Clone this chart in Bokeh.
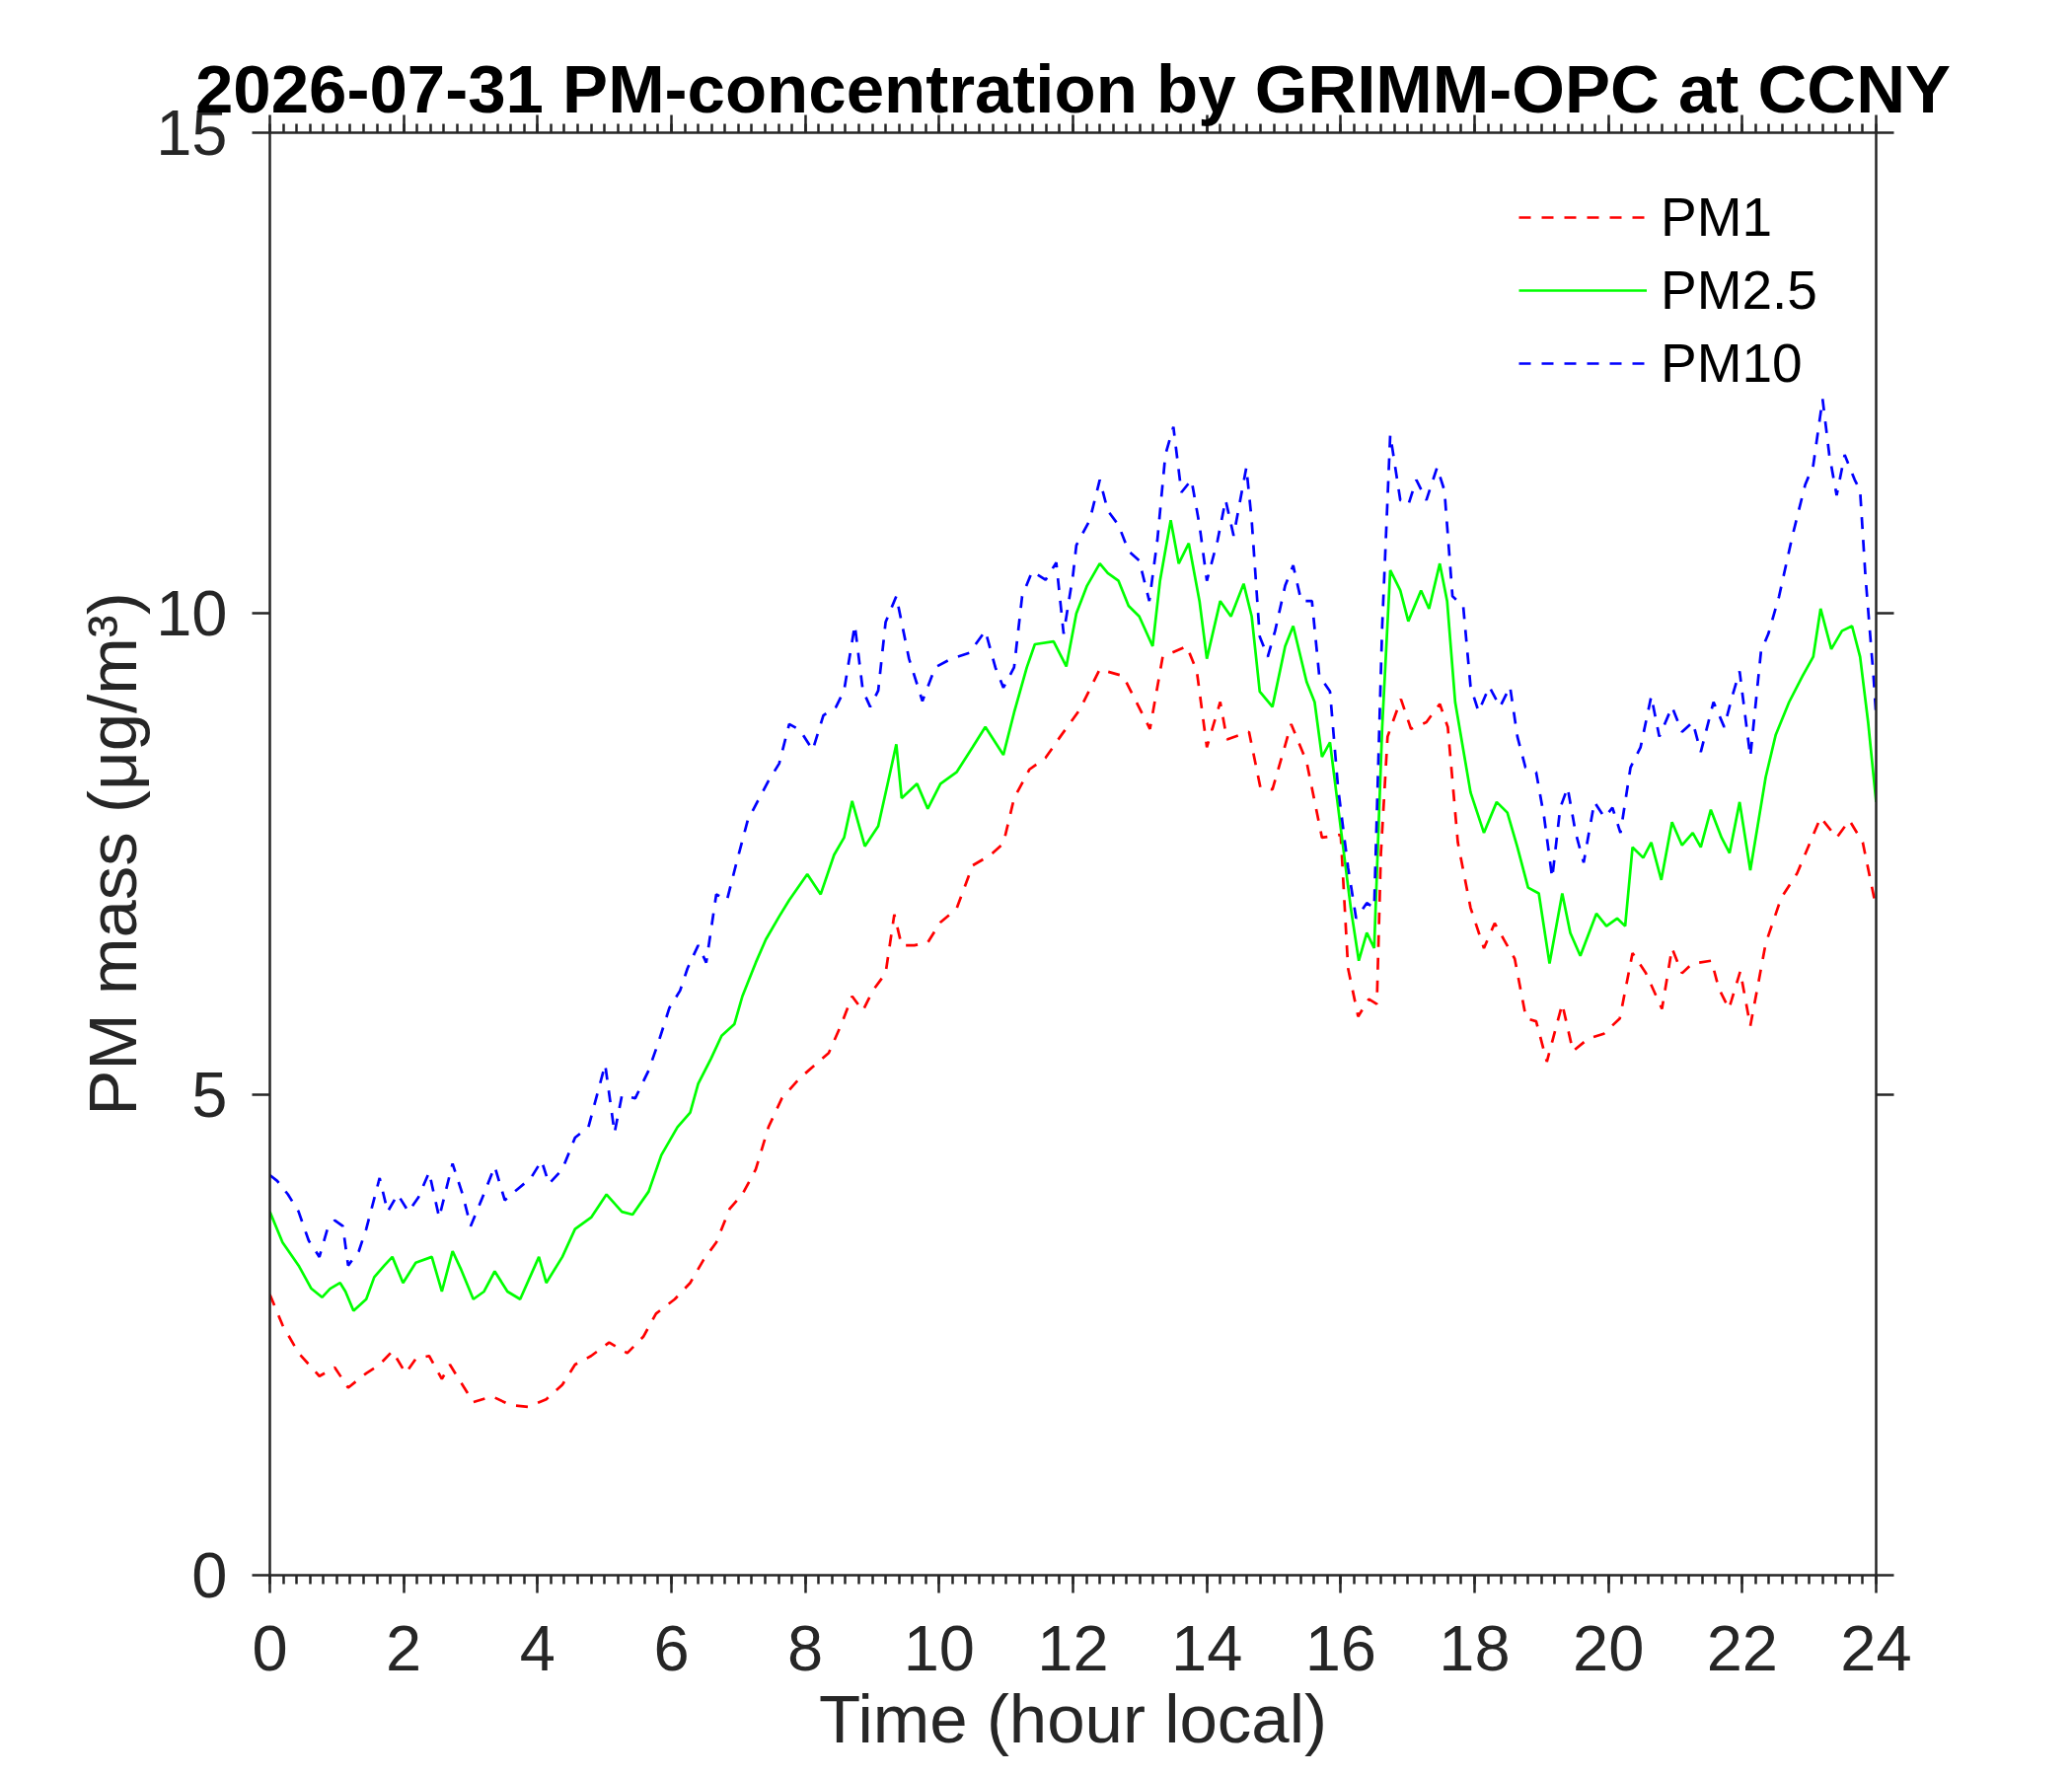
from bokeh.plotting import figure
from bokeh.models import (Range1d, LinearAxis, SingleIntervalTicker, FixedTicker,
                          CustomJSTickFormatter, Legend, LegendItem)
from bokeh.embed import file_html
from bokeh.resources import INLINE

# ---------------- data (hours local, µg/m3) ----------------
t_pm1 = [0.0, 0.19, 0.43, 0.74, 0.97, 1.17, 1.44, 1.64, 1.83, 2.03, 2.18, 2.38, 2.57, 2.69,
         2.85, 3.04, 3.32, 3.59, 3.86, 4.13, 4.37, 4.56, 4.80, 5.07, 5.34, 5.58, 5.77, 6.05,
         6.28, 6.48, 6.67, 6.87, 7.06, 7.26, 7.45, 7.65, 7.92, 8.15, 8.35, 8.54, 8.70, 8.86,
         9.01, 9.20, 9.33, 9.44, 9.63, 9.83, 10.02, 10.26, 10.50, 10.77, 10.96, 11.12, 11.35,
         11.59, 11.82, 12.10, 12.40, 12.75, 13.15, 13.34, 13.70, 13.85, 14.00, 14.20, 14.30,
         14.63, 14.80, 14.98, 15.26, 15.49, 15.72, 16.00, 16.11, 16.26, 16.42, 16.54, 16.60,
         16.70, 16.90, 17.05, 17.28, 17.48, 17.60, 17.75, 17.94, 18.14, 18.30, 18.60, 18.77,
         18.92, 19.08, 19.31, 19.47, 19.70, 19.93, 20.17, 20.36, 20.56, 20.80, 20.95, 21.10,
         21.25, 21.54, 21.65, 21.80, 21.97, 22.12, 22.35, 22.58, 22.82, 23.17, 23.41, 23.60,
         23.80, 24.00]
pm1 = [2.92, 2.60, 2.31, 2.07, 2.16, 1.95, 2.10, 2.19, 2.33, 2.10, 2.25, 2.28, 2.04, 2.19,
       2.01, 1.80, 1.86, 1.77, 1.75, 1.83, 1.98, 2.19, 2.28, 2.42, 2.31, 2.48, 2.72, 2.87,
       3.04, 3.28, 3.46, 3.81, 3.96, 4.22, 4.66, 4.96, 5.17, 5.31, 5.43, 5.73, 6.02, 5.87,
       6.08, 6.26, 6.87, 6.55, 6.55, 6.58, 6.79, 6.93, 7.38, 7.49, 7.61, 8.08, 8.38,
       8.50, 8.73, 9.00, 9.42, 9.35, 8.80, 9.55, 9.66, 9.40, 8.61, 9.08, 8.69,
       8.77, 8.19, 8.17, 8.85, 8.46, 7.67, 7.70, 6.31, 5.81, 5.99, 5.94, 7.50,
       8.72, 9.11, 8.80, 8.87, 9.06, 8.82, 7.62, 6.94, 6.52, 6.78, 6.41, 5.79,
       5.76, 5.34, 5.94, 5.45, 5.58, 5.63, 5.79, 6.47, 6.26, 5.89, 6.52, 6.26,
       6.36, 6.39, 6.10, 5.89, 6.28, 5.71, 6.57, 7.04, 7.30, 7.88, 7.67, 7.85,
       7.62, 6.94]

t_pm25 = [0.0, 0.19, 0.43, 0.62, 0.78, 0.90, 1.05, 1.13, 1.25, 1.44, 1.56, 1.71, 1.83, 1.99,
          2.18, 2.42, 2.57, 2.73, 2.85, 3.04, 3.20, 3.36, 3.55, 3.74, 4.02, 4.13, 4.37, 4.56,
          4.80, 5.03, 5.26, 5.42, 5.66, 5.85, 6.09, 6.28, 6.40, 6.59, 6.75, 6.94, 7.06, 7.26,
          7.41, 7.61, 7.76, 8.03, 8.23, 8.43, 8.58, 8.70, 8.89, 9.09, 9.24, 9.36, 9.44, 9.67,
          9.83, 10.02, 10.26, 10.50, 10.69, 10.96, 11.12, 11.31, 11.43, 11.71, 11.90, 12.05,
          12.21, 12.40, 12.52, 12.68, 12.83, 12.99, 13.19, 13.30, 13.46, 13.58, 13.73, 13.89,
          14.00, 14.20, 14.36, 14.55, 14.67, 14.79, 14.98, 15.17, 15.29, 15.49, 15.61, 15.72,
          15.84, 16.00, 16.15, 16.27, 16.39, 16.50, 16.62, 16.74, 16.89, 17.01, 17.20, 17.32,
          17.48, 17.59, 17.71, 17.94, 18.14, 18.33, 18.49, 18.64, 18.80, 18.96, 19.12, 19.31,
          19.43, 19.58, 19.82, 19.97, 20.13, 20.25, 20.36, 20.52, 20.64, 20.79, 20.95, 21.10,
          21.26, 21.38, 21.53, 21.69, 21.81, 21.96, 22.12, 22.35, 22.50, 22.70, 22.90, 23.06,
          23.17, 23.33, 23.49, 23.64, 23.76, 23.88, 24.00]
pm25 = [3.78, 3.46, 3.22, 2.98, 2.89, 2.98, 3.04, 2.95, 2.75, 2.87, 3.10, 3.22, 3.31, 3.04,
        3.25, 3.31, 2.95, 3.37, 3.19, 2.87, 2.95, 3.16, 2.95, 2.87, 3.31, 3.04, 3.31, 3.60,
        3.72, 3.96, 3.78, 3.75, 3.99, 4.37, 4.66, 4.81, 5.11, 5.37, 5.61, 5.73, 6.02, 6.37,
        6.61, 6.85, 7.02, 7.29, 7.08, 7.49, 7.67, 8.05, 7.58, 7.79, 8.26, 8.64, 8.08, 8.23,
        7.97, 8.23, 8.35, 8.61, 8.82, 8.53, 8.97, 9.44, 9.68, 9.71, 9.45, 10.00,
        10.29, 10.52, 10.42, 10.34, 10.08, 9.97, 9.66, 10.34, 10.97, 10.52, 10.73, 10.13,
        9.53, 10.13, 9.97, 10.31, 9.97, 9.19, 9.03, 9.66, 9.87, 9.29, 9.08, 8.51,
        8.66, 7.77, 6.94, 6.39, 6.68, 6.52, 8.82, 10.45, 10.24, 9.92, 10.24, 10.05,
        10.52, 10.13, 9.08, 8.14, 7.72, 8.04, 7.93, 7.57, 7.15, 7.09, 6.36, 7.09,
        6.68, 6.44, 6.88, 6.75, 6.83, 6.75, 7.57, 7.46, 7.62, 7.23, 7.83, 7.59,
        7.72, 7.57, 7.96, 7.67, 7.51, 8.04, 7.33, 8.30, 8.74, 9.08, 9.35, 9.55,
        10.05, 9.63, 9.82, 9.87, 9.55, 8.87, 8.04]

t_pm10 = [0.0, 0.11, 0.27, 0.43, 0.58, 0.74, 0.86, 0.97, 1.09, 1.17, 1.33, 1.44, 1.64, 1.76,
          1.91, 2.07, 2.22, 2.38, 2.53, 2.73, 2.88, 3.00, 3.16, 3.36, 3.51, 3.71, 3.90, 4.06,
          4.17, 4.37, 4.56, 4.76, 5.01, 5.15, 5.26, 5.46, 5.66, 5.81, 5.97, 6.13, 6.24, 6.40,
          6.52, 6.67, 6.83, 6.98, 7.14, 7.29, 7.45, 7.61, 7.76, 7.92, 8.11, 8.27, 8.46, 8.58,
          8.74, 8.86, 8.97, 9.09, 9.20, 9.36, 9.55, 9.75, 9.94, 10.18, 10.45, 10.69, 10.84,
          10.96, 11.12, 11.24, 11.39, 11.59, 11.75, 11.86, 12.00, 12.05, 12.25, 12.40, 12.52,
          12.68, 12.83, 12.99, 13.14, 13.26, 13.38, 13.50, 13.62, 13.77, 13.89, 14.00, 14.16,
          14.28, 14.40, 14.59, 14.67, 14.79, 14.91, 15.02, 15.17, 15.29, 15.41, 15.57, 15.68,
          15.84, 15.96, 16.11, 16.23, 16.39, 16.50, 16.62, 16.74, 16.89, 17.01, 17.13, 17.28,
          17.44, 17.55, 17.67, 17.83, 17.94, 18.06, 18.22, 18.38, 18.53, 18.64, 18.76, 18.92,
          19.04, 19.16, 19.28, 19.39, 19.51, 19.63, 19.79, 19.94, 20.06, 20.18, 20.33, 20.48,
          20.64, 20.76, 20.95, 21.10, 21.26, 21.38, 21.57, 21.73, 21.85, 21.96, 22.12, 22.28,
          22.39, 22.55, 22.75, 22.94, 23.06, 23.20, 23.30, 23.41, 23.53, 23.68, 23.76, 23.84,
          23.96, 24.00]
pm10 = [4.16, 4.10, 3.96, 3.78, 3.48, 3.31, 3.60, 3.69, 3.63, 3.22, 3.37, 3.60, 4.13, 3.78,
        3.96, 3.78, 3.93, 4.19, 3.72, 4.28, 3.96, 3.63, 3.90, 4.25, 3.90, 4.02, 4.13, 4.31,
        4.07, 4.22, 4.55, 4.66, 5.31, 4.60, 4.99, 4.96, 5.25, 5.55, 5.90, 6.08, 6.31, 6.55,
        6.37, 7.08, 7.02, 7.43, 7.85, 8.05, 8.26, 8.44, 8.85, 8.79, 8.58, 8.94, 9.03, 9.20,
        9.88, 9.20, 9.03, 9.20, 9.91, 10.18, 9.53, 9.09, 9.44, 9.53, 9.59, 9.82, 9.44,
        9.23, 9.44, 10.18, 10.44, 10.35, 10.53, 9.79, 10.40, 10.71, 10.97, 11.39, 11.07,
        10.92, 10.65, 10.55, 10.13, 10.76, 11.65, 11.94, 11.26, 11.39, 10.92, 10.34, 10.76,
        11.18, 10.81, 11.52, 10.97, 9.76, 9.55, 9.82, 10.29, 10.50, 10.13, 10.13, 9.35,
        9.19, 8.19, 7.36, 6.83, 6.99, 6.94, 9.87, 11.86, 11.18, 11.13, 11.39, 11.18,
        11.52, 11.28, 10.18, 10.08, 9.24, 8.98, 9.24, 9.03, 9.24, 8.72, 8.40, 8.35,
        7.88, 7.25, 7.98, 8.19, 7.72, 7.41, 8.04, 7.88, 7.98, 7.72, 8.40, 8.61,
        9.14, 8.72, 9.03, 8.77, 8.87, 8.56, 9.08, 8.82, 9.14, 9.40, 8.51, 9.61,
        9.79, 10.18, 10.81, 11.34, 11.54, 12.23, 11.65, 11.23, 11.65, 11.39, 11.28, 10.39,
        9.35, 8.93]

x_major_step = 2
x_minor_per_major = 10
y_ticks = [0, 5, 10, 15]

# ---------------- figure ----------------
AX = "#262626"
FONT = "Liberation Sans"

p = figure(width=2084, height=1784, output_backend="svg", toolbar_location=None,
           x_range=Range1d(0, 24), y_range=Range1d(0, 15),
           x_axis_type=None, y_axis_type=None,
           min_border_left=273, min_border_right=183,
           min_border_top=134, min_border_bottom=188)
p.outline_line_color = None
p.background_fill_color = "white"
p.border_fill_color = "white"

def style(ax, labels=True, minor=True):
    ax.axis_line_color = AX
    ax.axis_line_width = 2.5
    ax.major_tick_line_color = AX
    ax.major_tick_line_width = 2.5
    ax.major_tick_in = 0
    ax.major_tick_out = 18
    if minor:
        ax.minor_tick_line_color = AX
        ax.minor_tick_line_width = 2.5
        ax.minor_tick_in = 0
        ax.minor_tick_out = 9
    else:
        ax.minor_tick_line_color = None
    ax.major_label_text_font = FONT
    ax.major_label_text_font_size = "65px"
    ax.major_label_text_color = AX
    if not labels:
        ax.formatter = CustomJSTickFormatter(code="return ''")
        ax.major_label_text_font_size = "0px"
        ax.major_label_standoff = 0

xb = LinearAxis(ticker=SingleIntervalTicker(interval=x_major_step, num_minor_ticks=x_minor_per_major))
style(xb)
xb.major_label_standoff = 33
xb.axis_label = "Time (hour local)"
xb.axis_label_text_font = FONT
xb.axis_label_text_font_size = "69px"
xb.axis_label_text_font_style = "normal"
xb.axis_label_text_color = AX
xb.axis_label_standoff = 8
p.add_layout(xb, "below")

xt = LinearAxis(ticker=SingleIntervalTicker(interval=x_major_step, num_minor_ticks=x_minor_per_major))
style(xt, labels=False)
p.add_layout(xt, "above")

yl = LinearAxis(ticker=FixedTicker(ticks=y_ticks, minor_ticks=[]))
style(yl, minor=False)
yl.major_label_standoff = 25
yl.axis_label = "PM mass (μg/m³)"
yl.axis_label_text_font = FONT
yl.axis_label_text_font_size = "69px"
yl.axis_label_text_font_style = "normal"
yl.axis_label_text_color = AX
yl.axis_label_standoff = 2
p.add_layout(yl, "left")

yr = LinearAxis(ticker=FixedTicker(ticks=y_ticks, minor_ticks=[]))
style(yr, labels=False, minor=False)
p.add_layout(yr, "right")

r1 = p.line(t_pm1, pm1, line_color="#ff0000", line_width=2.7, line_dash="12 11")
r2 = p.line(t_pm25, pm25, line_color="#00ff00", line_width=2.7)
r3 = p.line(t_pm10, pm10, line_color="#0000ff", line_width=2.7, line_dash="12 11")

legend = Legend(items=[LegendItem(label="PM1", renderers=[r1]),
                       LegendItem(label="PM2.5", renderers=[r2]),
                       LegendItem(label="PM10", renderers=[r3])],
                location=(1266, 1191), padding=0, spacing=0, margin=0,
                glyph_width=130, glyph_height=74, label_height=74, label_standoff=14,
                label_text_font=FONT, label_text_font_size="55px", label_text_color="black",
                border_line_color=None, background_fill_alpha=0)
p.add_layout(legend)

p.title.text = "2026-07-31 PM-concentration by GRIMM-OPC at CCNY"
p.title.text_font = FONT
p.title.text_font_size = "69px"
p.title.text_font_style = "bold"
p.title.text_color = "black"
p.title.align = "center"
p.title.standoff = -24

open("out.html", "w").write(file_html(p, INLINE))
